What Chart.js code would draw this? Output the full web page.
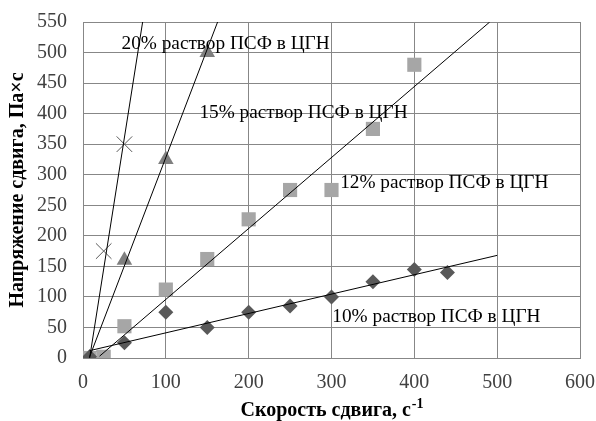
<!DOCTYPE html>
<html>
<head>
<meta charset="utf-8">
<script src="https://cdn.jsdelivr.net/npm/chart.js@4.4.1/dist/chart.umd.min.js"></script>
<style>
html,body{margin:0;padding:0;background:#fff;}
#wrap{width:596px;height:421px;position:relative;}
</style>
</head>
<body>
<div id="wrap"><canvas id="c" width="596" height="421"></canvas></div>
<script>
// Data
const xTicks = [0, 100, 200, 300, 400, 500, 600];
const yTicks = [0, 50, 100, 150, 200, 250, 300, 350, 400, 450, 500, 550];

const x10 = [8, 50, 100, 150, 200, 250, 300, 350, 400, 440];
const y10 = [2, 25, 75, 50, 75, 85, 100, 125, 145, 140];
const x12 = [8, 25, 50, 100, 150, 200, 250, 300, 350, 400];
const y12 = [0, 2, 52, 112, 162, 227, 275, 275, 375, 480];
const x15 = [8, 50, 100, 150];
const y15 = [0, 160, 325, 500];
const x20 = [8, 25, 50];
const y20 = [0, 175, 350];

// Trendline endpoints
const t10x = [8, 500];   const t10y = [12, 168];
const t12x = [20, 491];  const t12y = [3, 550];
const t15x = [8, 162.5]; const t15y = [2, 550];
const t20x = [8, 72];    const t20y = [0, 550];

const labels = ["20% раствор ПСФ в ЦГН", "15% раствор ПСФ в ЦГН", "12% раствор ПСФ в ЦГН", "10% раствор ПСФ в ЦГН"];
const labelX = [46.5, 140.5, 310.5, 301];
const labelY = [514, 401, 286, 67];

const xTitle = "Скорость сдвига, с";
const xTitleSup = "-1";
const yTitle = "Напряжение сдвига, Па×с";

const pts = (xs, ys) => xs.map((x, i) => ({x: x, y: ys[i]}));
const FONT = "'Liberation Serif', 'Times New Roman', serif";

const annot = {
  id: 'annot',
  afterDatasetsDraw(chart) {
    const ctx = chart.ctx, xs = chart.scales.x, ys = chart.scales.y;
    ctx.save();
    ctx.font = "19.3px " + FONT;
    ctx.fillStyle = "#000";
    ctx.textBaseline = "middle";
    ctx.textAlign = "left";
    labels.forEach((t, i) => {
      ctx.fillText(t, xs.getPixelForValue(labelX[i]), ys.getPixelForValue(labelY[i]));
    });
    // x-axis title with superscript
    ctx.font = "bold 20px " + FONT;
    const w1 = ctx.measureText(xTitle).width;
    ctx.font = "bold 14px " + FONT;
    const w2 = ctx.measureText(xTitleSup).width;
    const cx = (chart.chartArea.left + chart.chartArea.right) / 2;
    const startX = cx - (w1 + w2) / 2;
    const by = 416;
    ctx.textBaseline = "alphabetic";
    ctx.font = "bold 20px " + FONT;
    ctx.fillText(xTitle, startX, by);
    ctx.font = "bold 14px " + FONT;
    ctx.fillText(xTitleSup, startX + w1 + 1, by - 8);
    ctx.restore();
  }
};

const lineDs = (xs, ys) => ({
  type: 'line', data: pts(xs, ys), borderColor: '#000', borderWidth: 1,
  pointRadius: 0, fill: false, order: 0, showLine: true
});

new Chart(document.getElementById('c'), {
  type: 'scatter',
  data: {
    datasets: [
      {data: pts(x10, y10), pointStyle: 'rectRot', pointRadius: 7.5, backgroundColor: '#595959', borderColor: '#595959', borderWidth: 0, order: 1},
      {data: pts(x12, y12), pointStyle: 'rect', pointRadius: 10, backgroundColor: '#a6a6a6', borderColor: '#a6a6a6', borderWidth: 0, order: 1},
      {data: pts(x15, y15), pointStyle: 'triangle', pointRadius: 9, backgroundColor: '#7f7f7f', borderColor: '#7f7f7f', borderWidth: 0, order: 1},
      {data: pts(x20, y20), pointStyle: 'crossRot', pointRadius: 11, backgroundColor: '#595959', borderColor: '#595959', borderWidth: 1, order: 1},
      lineDs(t10x, t10y), lineDs(t12x, t12y), lineDs(t15x, t15y), lineDs(t20x, t20y)
    ]
  },
  options: {
    responsive: false,
    animation: false,
    devicePixelRatio: 1,
    layout: {padding: {top: 22, right: 0, left: 6, bottom: 0}},
    plugins: {legend: {display: false}, tooltip: {enabled: false}},
    scales: {
      x: {
        type: 'linear', min: 0, max: 600,
        afterBuildTicks: s => { s.ticks = xTicks.map(v => ({value: v})); },
        afterFit: s => { s.height = 63; s.paddingRight = 16; s.paddingLeft = 0; },
        grid: {color: '#878787', lineWidth: 1, drawTicks: false},
        border: {color: '#878787'},
        ticks: {font: {family: FONT, size: 20}, color: '#404040', padding: 13, maxRotation: 0}
      },
      y: {
        type: 'linear', min: 0, max: 550,
        afterBuildTicks: s => { s.ticks = yTicks.map(v => ({value: v})); },
        afterFit: s => { s.width = 77; s.paddingTop = 0; s.paddingBottom = 0; },
        grid: {color: '#878787', lineWidth: 1, drawTicks: false},
        border: {color: '#878787'},
        ticks: {font: {family: FONT, size: 20}, color: '#404040', padding: 16},
        title: {display: true, text: yTitle, font: {family: FONT, size: 20, weight: 'bold'}, color: '#000', padding: {top: 0, bottom: 0}}
      }
    }
  },
  plugins: [annot]
});
</script>
</body>
</html>
